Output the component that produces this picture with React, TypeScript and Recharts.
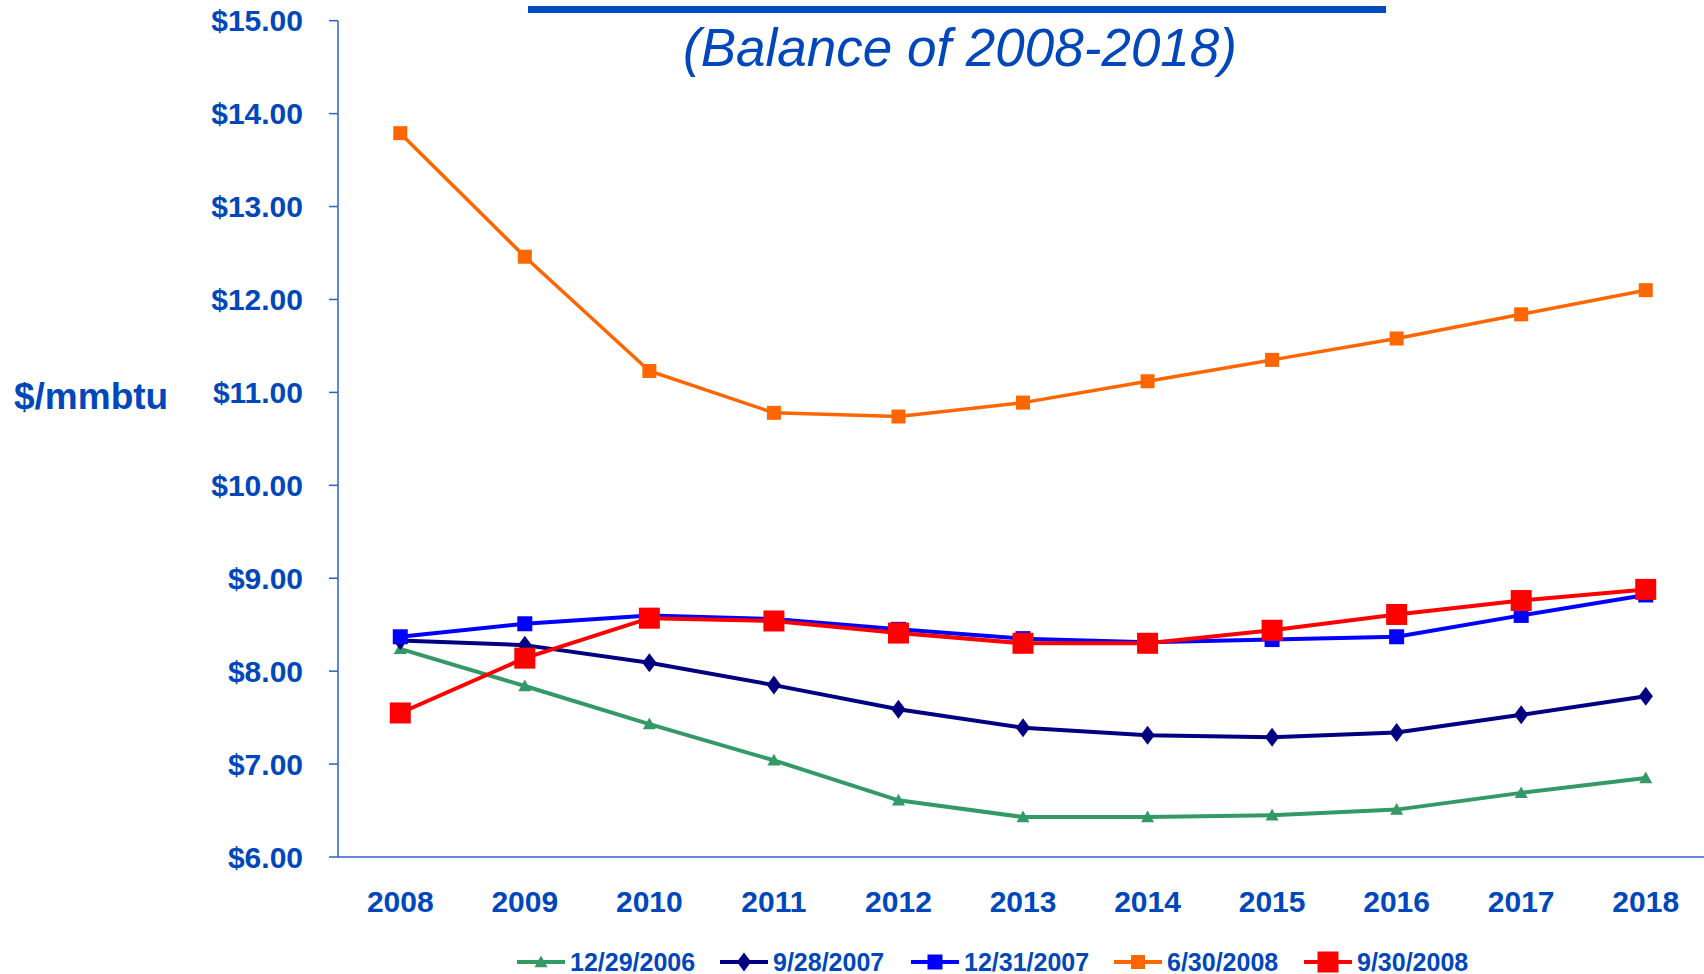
import React from 'react';
import { LineChart, Line, XAxis, YAxis } from 'recharts';

const years = ['2008', '2009', '2010', '2011', '2012', '2013', '2014', '2015', '2016', '2017', '2018'];
const dec2006 = [8.24, 7.84, 7.43, 7.04, 6.61, 6.43, 6.43, 6.45, 6.51, 6.69, 6.85];
const sep2007 = [8.33, 8.28, 8.09, 7.85, 7.59, 7.39, 7.31, 7.29, 7.34, 7.53, 7.73];
const dec2007 = [8.37, 8.51, 8.6, 8.56, 8.45, 8.35, 8.31, 8.34, 8.37, 8.6, 8.82];
const jun2008 = [13.79, 12.46, 11.23, 10.78, 10.74, 10.89, 11.12, 11.35, 11.58, 11.84, 12.1];
const sep2008 = [7.55, 8.14, 8.57, 8.54, 8.41, 8.3, 8.3, 8.44, 8.61, 8.76, 8.88];
const yTicks = [6, 7, 8, 9, 10, 11, 12, 13, 14, 15];

const data = years.map((y, i) => ({
  i,
  year: y,
  d2006: dec2006[i],
  s2007: sep2007[i],
  d2007: dec2007[i],
  j2008: jun2008[i],
  s2008: sep2008[i],
}));

const BLUE_TEXT = '#0047bb';
const FONT = '"Liberation Sans", Arial, sans-serif';

type MarkerKind = 'triangle' | 'diamond' | 'square';

const Marker = ({ cx, cy, kind, size, color }: { cx: number; cy: number; kind: MarkerKind; size: number; color: string }) => {
  const h = size / 2;
  if (kind === 'triangle') {
    return <polygon points={`${cx},${cy - h} ${cx + h},${cy + h * 0.8} ${cx - h},${cy + h * 0.8}`} fill={color} />;
  }
  if (kind === 'diamond') {
    return <polygon points={`${cx},${cy - h} ${cx + h * 0.75},${cy} ${cx},${cy + h} ${cx - h * 0.75},${cy}`} fill={color} />;
  }
  return <rect x={cx - h} y={cy - h} width={size} height={size} fill={color} />;
};

const series = [
  { key: 'd2006', name: '12/29/2006', color: '#339966', kind: 'triangle' as MarkerKind, size: 13, width: 4 },
  { key: 's2007', name: '9/28/2007', color: '#000080', kind: 'diamond' as MarkerKind, size: 19, width: 4 },
  { key: 'd2007', name: '12/31/2007', color: '#0000ff', kind: 'square' as MarkerKind, size: 15, width: 4 },
  { key: 'j2008', name: '6/30/2008', color: '#ff6600', kind: 'square' as MarkerKind, size: 14, width: 3.5 },
  { key: 's2008', name: '9/30/2008', color: '#ff0000', kind: 'square' as MarkerKind, size: 21, width: 4 },
];

const legendPos = [517, 720, 911, 1114, 1304];

export default function App() {
  return (
    <div style={{ position: 'relative', width: 1704, height: 974, overflow: 'hidden', background: '#fff', fontFamily: FONT }}>
      <style>{'body{margin:0}'}</style>
      <div style={{ position: 'absolute', left: 528, top: 6, width: 858, height: 7, background: '#004cbb' }} />
      <div
        style={{
          position: 'absolute',
          left: 0,
          width: 1920,
          top: 16,
          textAlign: 'center',
          fontSize: 53,
          fontStyle: 'italic',
          color: BLUE_TEXT,
          lineHeight: '64px',
        }}
      >
        (Balance of 2008-2018)
      </div>
      <div
        style={{
          position: 'absolute',
          left: 14,
          top: 375,
          fontSize: 37,
          fontWeight: 'bold',
          color: BLUE_TEXT,
          lineHeight: '44px',
        }}
      >
        $/mmbtu
      </div>
      <LineChart width={1712} height={974} data={data} margin={{ top: 20.7, right: 4, left: 0, bottom: 0 }}>
        <XAxis
          xAxisId="a_marks"
          dataKey="i"
          type="number"
          domain={[-0.5, 10.5]}
          ticks={[-0.5, 0.5, 1.5, 2.5, 3.5, 4.5, 5.5, 6.5, 7.5, 8.5, 9.5, 10.5]}
          tick={false}
          tickSize={9}
          height={12}
          stroke="#2f5fc8"
          strokeWidth={1.5}
          allowDataOverflow
        />
        <XAxis
          xAxisId="b_labels"
          dataKey="i"
          type="number"
          domain={[-0.5, 10.5]}
          ticks={[0, 1, 2, 3, 4, 5, 6, 7, 8, 9, 10]}
          tickFormatter={(v: number) => years[v]}
          axisLine={false}
          tickLine={false}
          tickSize={0}
          tickMargin={22}
          height={105}
          tick={{ fill: BLUE_TEXT, fontSize: 30, fontWeight: 'bold', fontFamily: FONT }}
          interval={0}
        />
        <YAxis
          domain={[6, 15]}
          ticks={yTicks}
          width={338}
          tickSize={9}
          tickMargin={26}
          tickFormatter={(v: number) => `$${v.toFixed(2)}`}
          stroke="#2f5fc8"
          strokeWidth={1.5}
          tick={{ fill: BLUE_TEXT, fontSize: 30, fontWeight: 'bold', fontFamily: FONT }}
          interval={0}
        />
        {series.map((s) => (
          <Line
            key={s.key}
            xAxisId="a_marks"
            dataKey={s.key}
            name={s.name}
            stroke={s.color}
            strokeWidth={s.width}
            isAnimationActive={false}
            dot={(p: any) => <Marker key={`${s.key}-${p.index}`} cx={p.cx} cy={p.cy} kind={s.kind} size={s.size} color={s.color} />}
            activeDot={false}
          />
        ))}
      </LineChart>
      {series.map((s, idx) => (
        <div
          key={s.key}
          style={{
            position: 'absolute',
            left: legendPos[idx],
            top: 946,
            height: 32,
            display: 'flex',
            alignItems: 'center',
            color: BLUE_TEXT,
            fontSize: 25,
            fontWeight: 'bold',
          }}
        >
          <svg width={48} height={24} style={{ marginRight: 5 }}>
            <line x1={0} y1={12} x2={48} y2={12} stroke={s.color} strokeWidth={4} />
            <Marker cx={24} cy={12} kind={s.kind} size={s.size} color={s.color} />
          </svg>
          <span>{s.name}</span>
        </div>
      ))}
    </div>
  );
}
